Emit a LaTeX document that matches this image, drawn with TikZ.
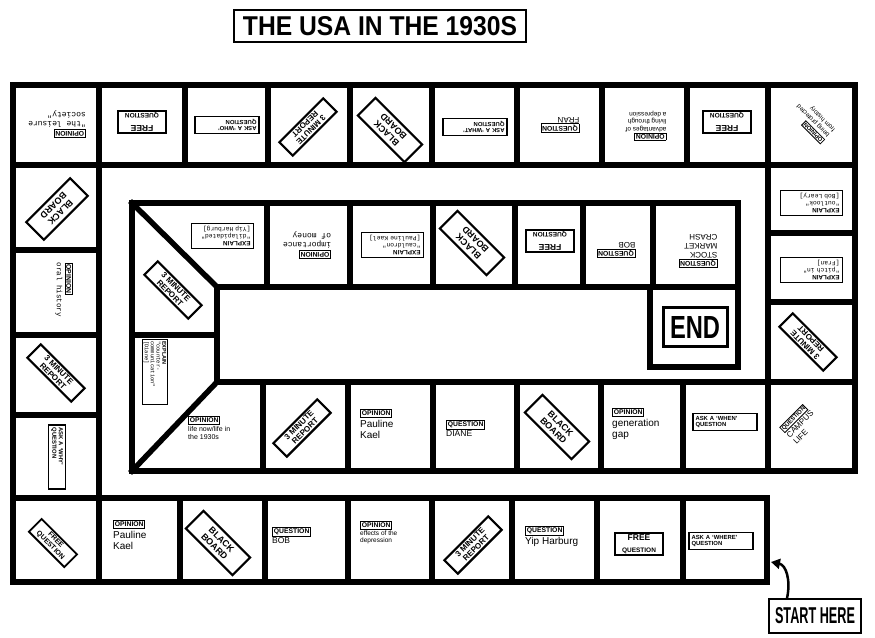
\documentclass[tikz,border=0pt]{standalone}
\usepackage{fontspec}
\usepackage{graphicx}
\setmainfont{Liberation Sans}
\newfontfamily\mono{Liberation Mono}
\usetikzlibrary{arrows.meta}
\newcommand{\tg}[1]{{\setlength{\fboxsep}{0.8pt}\setlength{\fboxrule}{0.9pt}\fbox{\fontsize{6.8}{6.8}\selectfont\bfseries #1}}}
\newcommand{\tgs}[1]{{\setlength{\fboxsep}{0.6pt}\setlength{\fboxrule}{0.8pt}\fbox{\fontsize{5.8}{5.8}\selectfont\bfseries #1}}}
\newcommand{\fqtext}{{\fontsize{8.5}{9}\selectfont FREE}\\{\fontsize{6.5}{7}\selectfont QUESTION}}
\tikzset{
  board/.style={line width=5.5pt, line cap=rect, line join=miter},
  lbl/.style={align=left, inner sep=0pt},
  txt/.style={align=left, inner sep=0pt, anchor=north west},
  diagbox/.style={draw, line width=2.2pt, align=center, inner sep=0pt},
  rep/.style={diagbox, minimum width=62pt, minimum height=19pt, font=\bfseries\fontsize{8}{8.5}\selectfont},
  blk/.style={diagbox, minimum width=66pt, minimum height=25pt, font=\bfseries\fontsize{9}{10}\selectfont},
  fq/.style={draw, line width=1.3pt, align=center, minimum width=48pt, minimum height=22pt, inner sep=0pt, font=\bfseries},
  ask/.style={draw, line width=1.6pt, align=left, text width=59pt, inner sep=2.5pt, font=\bfseries\fontsize{5.9}{6.5}\selectfont},
  expl/.style={draw, line width=1pt, align=left, text width=57pt, inner sep=2.5pt, font=\fontsize{6.3}{7.2}\selectfont},
  big/.style={draw, line width=1.5pt, inner sep=0pt},
}
\begin{document}
\begin{tikzpicture}[x=1pt, y=-1pt]
\useasboundingbox (0,0) rectangle (875,637);

% ---------- board lines ----------
\draw[board] (767,582) -- (13,582) -- (13,85) -- (855,85) -- (855,471) -- (132,471) -- (132,203) -- (738,203) -- (738,367) -- (650,367) -- (650,287);
\draw[board] (767,582) -- (767,498) -- (99,498) -- (99,85);
\draw[board] (13,498) -- (99,498);
\draw[board] (13,165) -- (855,165);
\draw[board] (768,85) -- (768,471);
\draw[board] (217,287) -- (738,287);
\draw[board] (217,287) -- (217,382) -- (855,382);
\draw[board] (132,203) -- (217,287);
\draw[board] (132,471) -- (217,382);
\draw[board] (132,335) -- (217,335);
\foreach \x in {185,268,350,432,517,602,687} \draw[board] (\x,85) -- (\x,165);
\foreach \y in {250,335,415} \draw[board] (13,\y) -- (99,\y);
\foreach \x in {99,180,265,348,432,512,597,683} \draw[board] (\x,498) -- (\x,582);
\foreach \y in {233,302} \draw[board] (768,\y) -- (855,\y);
\foreach \x in {263,348,433,517,601,683} \draw[board] (\x,382) -- (\x,471);
\foreach \x in {267,350,433,515,583,653} \draw[board] (\x,203) -- (\x,287);

% ---------- title ----------
\node[big, minimum width=292pt, minimum height=32pt] (title) at (380,26) {\resizebox{274pt}{19pt}{\bfseries THE USA IN THE 1930S}};

% ---------- top row (upside down) ----------
\node[lbl, rotate=180, font=\fontsize{8}{9.5}\selectfont] (t1) at (57,124) {\tg{OPINION}\\{\mono "the leisure}\\{\mono society"}};
\node[fq, rotate=180] (t2) at (142,122) {\fqtext};
\node[ask, rotate=180] (t3) at (227,125) {ASK A `WHO'\\QUESTION};
\node[rep, rotate=225] (t4) at (308,127) {3 MINUTE\\REPORT};
\node[blk, rotate=135] (t5) at (390,130) {BLACK\\BOARD};
\node[ask, rotate=180] (t6) at (475,127) {ASK A `WHAT'\\QUESTION};
\node[lbl, rotate=180, font=\fontsize{8}{9.5}\selectfont] (t7) at (560,125) {\tg{QUESTION}\\FRAN};
\node[lbl, rotate=180, font=\fontsize{6.5}{7.3}\selectfont] (t8) at (646,126) {\tg{OPINION}\\advantages of\\living through\\a depression};
\node[fq, rotate=180] (t9) at (727,122) {\fqtext};
\node[lbl, rotate=135, font=\fontsize{6.3}{8}\selectfont] (t10) at (813,121) {\tgs{OPINION}\\being protected\\from history};

% ---------- right column ----------
\node[expl, rotate=180] (r1) at (811,203) {\textbf{EXPLAIN}\\{\mono "outlook"}\\{\mono [Bob Leary]}};
\node[expl, rotate=180] (r2) at (811,270) {\textbf{EXPLAIN}\\{\mono "pitch in"}\\{\mono [Fran]}};
\node[rep, rotate=135] (r3) at (808,342) {3 MINUTE\\REPORT};
\node[lbl, rotate=45, font=\fontsize{8}{9.5}\selectfont] (r4) at (800,424) {\tgs{QUESTION}\\CAMPUS\\LIFE};

% ---------- inner top row (upside down) ----------
\node[expl, rotate=180] (i1) at (222,236) {\textbf{EXPLAIN}\\{\mono "dilapidated"}\\{\mono [Yip Harburg]}};
\node[lbl, rotate=180, font=\fontsize{8}{9.5}\selectfont] (i2) at (307,245) {\tg{OPINION}\\{\mono importance}\\{\mono of money}};
\node[expl, rotate=180] (i3) at (392,245) {\textbf{EXPLAIN}\\{\mono "cauldron"}\\{\mono [Pauline Kael]}};
\node[blk, rotate=135] (i4) at (472,243) {BLACK\\BOARD};
\node[fq, rotate=180] (i5) at (550,241) {\fqtext};
\node[lbl, rotate=180, font=\fontsize{8}{9.5}\selectfont] (i6) at (616,250) {\tg{QUESTION}\\BOB};
\node[lbl, rotate=180, font=\fontsize{8}{9.2}\selectfont] (i7) at (698,251) {\tg{QUESTION}\\STOCK\\MARKET\\CRASH};
\node[draw, line width=3pt, minimum width=64pt, minimum height=39pt, inner sep=0pt] (end) at (695,327) {\resizebox{50pt}{22pt}{\bfseries END}};

% ---------- inner left column ----------
\node[rep, rotate=-45] (l1) at (173,290) {3 MINUTE\\REPORT};
\node[expl, rotate=-90, text width=62pt, inner sep=1.8pt, font=\fontsize{5.5}{5.8}\selectfont] (l2) at (155,372) {\textbf{EXPLAIN}\\{\mono "counter-}\\{\mono communication"}\\{\mono [Diane]}};

% ---------- inner bottom row ----------
\node[txt, font=\fontsize{7}{8.5}\selectfont] (b1) at (188,416) {\tg{OPINION}\\life now/life in\\the 1930s};
\node[rep, rotate=45] (b2) at (302,428) {3 MINUTE\\REPORT};
\node[txt, font=\fontsize{10}{11.5}\selectfont] (b3) at (360,409) {\tg{OPINION}\\Pauline\\Kael};
\node[txt, font=\fontsize{8.5}{10}\selectfont] (b4) at (446,420) {\tg{QUESTION}\\DIANE};
\node[blk, rotate=-45] (b5) at (557,427) {BLACK\\BOARD};
\node[txt, font=\fontsize{10}{11.5}\selectfont] (b6) at (612,408) {\tg{OPINION}\\generation\\gap};
\node[ask] (b7) at (725,422) {ASK A `WHEN'\\QUESTION};

% ---------- left column ----------
\node[blk, rotate=225, minimum width=62pt] (L1) at (57,209) {BLACK\\BOARD};
\node[lbl, rotate=-90, font=\fontsize{7.5}{9.5}\selectfont] (L2) at (64,290) {\tg{OPINION}\\{\mono oral history}};
\node[rep, rotate=-45] (L3) at (56,373) {3 MINUTE\\REPORT};
\node[ask, rotate=-90] (L4) at (57,457) {ASK A `WHY'\\QUESTION};

% ---------- bottom row ----------
\node[diagbox, rotate=-45, line width=1.8pt, minimum width=50pt, minimum height=18pt, font=\bfseries\fontsize{7}{7.5}\selectfont] (c1) at (53,543) {FREE\\QUESTION};
\node[txt, font=\fontsize{10}{11.5}\selectfont] (c2) at (113,520) {\tg{OPINION}\\Pauline\\Kael};
\node[blk, rotate=-45] (c3) at (218,543) {BLACK\\BOARD};
\node[txt, font=\fontsize{8.5}{10}\selectfont] (c4) at (272,527) {\tg{QUESTION}\\BOB};
\node[txt, font=\fontsize{6.5}{7.5}\selectfont] (c5) at (360,521) {\tg{OPINION}\\effects of the\\depression};
\node[rep, rotate=45] (c6) at (473,545) {3 MINUTE\\REPORT};
\node[txt, font=\fontsize{10}{11.5}\selectfont] (c7) at (525,526) {\tg{QUESTION}\\Yip Harburg};
\node[fq] (c8) at (639,544) {\fqtext};
\node[ask] (c9) at (721,541) {ASK A `WHERE'\\QUESTION};

% ---------- start ----------
\node[big, minimum width=92pt, minimum height=34pt] (start) at (815,616) {\resizebox{80pt}{16pt}{\bfseries START HERE}};
\coordinate (tip) at (771,562);
\draw[line width=2.5pt, -{Triangle[length=9pt, width=10pt]}] ([xshift=-28pt]start.north) .. controls (791,580) and (786,565) .. (tip);
\end{tikzpicture}
\end{document}
